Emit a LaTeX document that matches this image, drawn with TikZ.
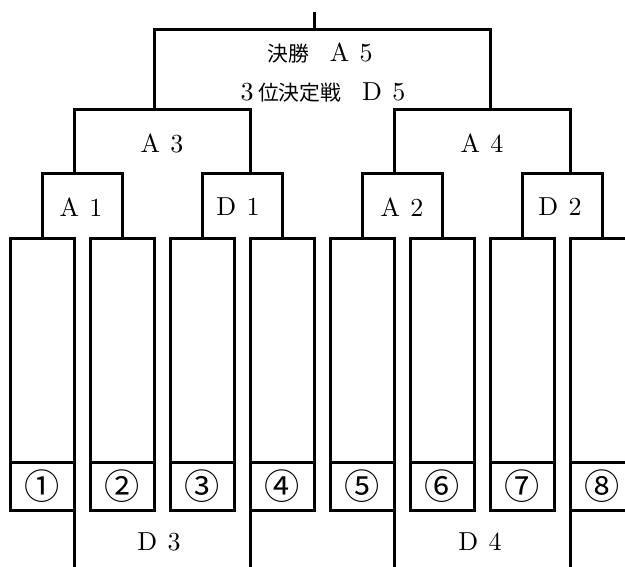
\documentclass[tikz,border=0pt]{standalone}
\usepackage{fontspec}
\setmainfont{lmroman10-regular}[Extension=.otf]
\newfontfamily\jp[Scale=0.8]{Noto Sans CJK JP}
\usetikzlibrary{calc}
\newcommand{\gap}{\hspace{0.4em}}

\begin{document}
\begin{tikzpicture}
[x=1pt,y=-1pt,line width=3pt,
entry/.style={draw,minimum width=63.5pt,minimum height=224pt,inner sep=0pt,outer sep=0pt},
seed/.style={draw,minimum width=63.5pt,minimum height=47.5pt,inner sep=0pt,outer sep=0pt,anchor=north,font=\fontsize{44}{44}\jp},
lbl/.style={font=\fontsize{26}{30}\selectfont,inner sep=0pt},]

\useasboundingbox (0,0) rectangle (625,567);

%Bracket levels
\coordinate (top) at (0,12);
\coordinate (r3) at (0,30);
\coordinate (r2) at (0,110);
\coordinate (r1) at (0,174);
\coordinate (bot) at (0,570);

%Entry boxes and seed numbers
\foreach \i/\s in {1/①,2/②,3/③,4/④,5/⑤,6/⑥,7/⑦,8/⑧}{
\node (b\i) at ({42.4+80*(\i-1)},350.5)[entry] {};
\node (n\i) at (b\i.south)[seed] {\s};
}

%First round
\foreach \l/\r in {1/2,3/4,5/6,7/8}
\draw (b\l.north) |- (b\r.north |- r1) -- (b\r.north);

%Second round
\draw (b1.north east |- r1) |- (b4.north west |- r2) -- (b4.north west |- r1);
\draw (b5.north east |- r1) |- (b8.north west |- r2) -- (b8.north west |- r1);

%Final
\draw (b2.north east |- r2) |- (b7.north west |- r3) -- (b7.north west |- r2);
\draw (b4.north east |- r3) -- (b4.north east |- top);

%Losers brackets
\draw (n1.south east) -- (n1.south east |- bot);
\draw (n4.south west) -- (n4.south west |- bot);
\draw (n5.south east) -- (n5.south east |- bot);
\draw (n8.south west) -- (n8.south west |- bot);

%Labeling matches
\node (final) at (320,53)[lbl] {{\jp 決勝　}A\gap 5};
\node (third) at (323,93)[lbl] {3\,{\jp 位決定戦　}D\gap 5};
\node (A3) at (162,143)[lbl] {A\gap 3};
\node (A4) at (482,143)[lbl] {A\gap 4};
\node (A1) at (81,207)[lbl] {A\gap 1};
\node (D1) at (238,207)[lbl] {D\gap 1};
\node (A2) at (402,207)[lbl] {A\gap 2};
\node (D2) at (560,207)[lbl] {D\gap 2};
\node (D3) at (159,542)[lbl] {D\gap 3};
\node (D4) at (480,542)[lbl] {D\gap 4};

\end{tikzpicture}
\end{document}
